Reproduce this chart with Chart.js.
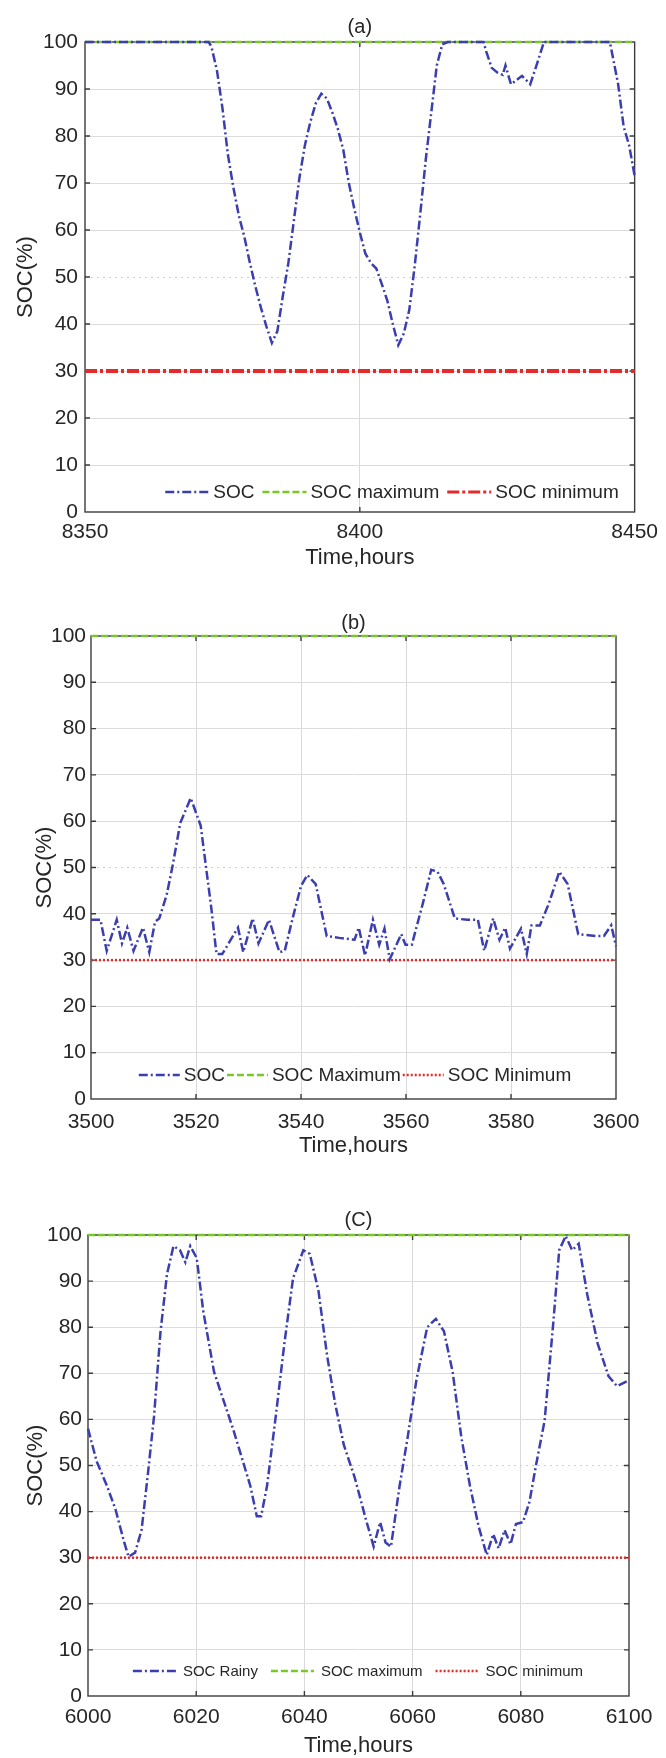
<!DOCTYPE html>
<html><head><meta charset="utf-8">
<script src="https://cdn.jsdelivr.net/npm/chart.js@4.4.1/dist/chart.umd.min.js"></script>
<style>
html,body{margin:0;padding:0;background:#fff;}
#wrap{position:relative;width:666px;height:1758px;overflow:hidden;}
.panel{position:absolute;left:0;width:666px;}
</style></head><body>
<div id="wrap">
<div class="panel" style="top:0;height:590px"><canvas id="cA"></canvas></div>
<div class="panel" style="top:590px;height:570px"><canvas id="cB"></canvas></div>
<div class="panel" style="top:1160px;height:598px"><canvas id="cC"></canvas></div>
</div>
<script>
// ---------- data ----------
const yTicks = [0, 10, 20, 30, 40, 50, 60, 70, 80, 90, 100];
const xTicksA = [8350, 8400, 8450];
const xTicksB = [3500, 3520, 3540, 3560, 3580, 3600];
const xTicksC = [6000, 6020, 6040, 6060, 6080, 6100];

const titleA = '(a)', titleB = '(b)', titleC = '(C)';
const xTitle = 'Time,hours', yTitle = 'SOC(%)';
const labelsA = ['SOC', 'SOC maximum', 'SOC minimum'];
const labelsB = ['SOC', 'SOC Maximum', 'SOC Minimum'];
const labelsC = ['SOC Rainy', 'SOC maximum', 'SOC minimum'];

const hoursA = [8350, 8372.5,
  8373, 8374, 8375, 8376, 8377, 8378, 8379, 8380, 8381, 8382,
  8383, 8384, 8385, 8386, 8387, 8388, 8389, 8390, 8391, 8392,
  8393, 8394, 8395, 8396, 8397, 8398, 8399, 8400, 8401, 8402,
  8403, 8404, 8405, 8406, 8407, 8408, 8409, 8410, 8411, 8412,
  8413, 8414, 8415, 8416,
  8422.5, 8423, 8424, 8425, 8426, 8426.5, 8427.5, 8429.5, 8431, 8432,
  8433.5, 8445.5, 8447, 8448, 8449, 8450];
const socA = [100, 100,
  99, 94, 86, 76, 69, 63, 58.5, 53, 48, 43.5,
  39.5, 36, 38.5, 46, 53, 62, 71, 78, 83, 87,
  89, 88, 85, 81.5, 77, 70, 64.5, 59.5, 55, 53,
  51.8, 48.5, 45, 40, 35.5, 38, 43, 52.5, 63.5, 75,
  85, 95, 99.5, 100,
  100, 98, 94.5, 93.5, 93, 95, 91, 92.8, 91, 94.5,
  100, 100, 91, 82, 78, 71.5];
const limitHoursA = [8350, 8450];

const hoursB = [3500, 3501.8, 3503, 3504.9, 3505.9, 3506.9, 3508.1, 3509.9, 3511.1, 3512.2,
  3513, 3514.4, 3515.6, 3517, 3519, 3520.9, 3522.1, 3522.9, 3523.9, 3525,
  3526.2, 3528, 3529, 3530.8, 3531.9, 3533.9, 3535.9, 3536.9, 3538.4, 3540,
  3541.2, 3542.8, 3544.9, 3547.3, 3550.2, 3551, 3552.2, 3553.7, 3554.9, 3555.9,
  3556.9, 3559.1, 3559.9, 3561.1, 3563.2, 3564.8, 3566, 3567.2, 3569.3, 3571.7,
  3573.7, 3574.9, 3576.6, 3577.8, 3578.9, 3579.8, 3581.9, 3583, 3583.9, 3585.5,
  3587.2, 3589.2, 3590.8, 3592.8, 3596.1, 3597.7, 3599.1, 3600];
const socB = [38.7, 38.7, 32, 38.7, 33.6, 37, 32, 37, 31.7, 38.3,
  39, 44, 50.7, 59.6, 65, 59, 48.4, 41.4, 31.3, 31.3,
  33.6, 37, 31.7, 39, 33.6, 38.7, 31.7, 32, 39, 46,
  48.4, 46.4, 35.2, 34.8, 34.4, 37, 31, 38.7, 33.3, 36.8,
  30.2, 35.6, 33.3, 33.3, 42.2, 49.5, 49.1, 46.4, 39, 38.7,
  38.7, 32, 39, 34.4, 37, 32.5, 36.8, 31.3, 37.5, 37.5,
  42.2, 49.1, 46.4, 35.6, 35.2, 35.2, 37.5, 33];
const limitHoursB = [3500, 3600];

const hoursC = [6000, 6001.6, 6003.5, 6005.1, 6006.7, 6007.5, 6008.7, 6009.9, 6011, 6012.2,
  6013.4, 6014.6, 6015.8, 6017, 6018, 6018.9, 6020.1, 6021.3, 6023.3, 6024.8,
  6026.8, 6028.4, 6030, 6031.2, 6032, 6033.1, 6034.7, 6036.3, 6037.9, 6039.8,
  6041, 6042.6, 6044.2, 6045.7, 6047.3, 6049.3, 6051.3, 6052.8, 6054, 6055,
  6056, 6057.6, 6059.1, 6060.7, 6062.7, 6064.3, 6065.8, 6067.4, 6069, 6070.6,
  6072.2, 6073.7, 6074.9, 6075.9, 6077, 6078.1, 6079.1, 6080.4, 6081.6, 6082.8,
  6084.4, 6086, 6087.1, 6088.3, 6089.5, 6090.7, 6092.3, 6094.2, 6096.2, 6097.8,
  6100];
const socC = [58, 50.9, 45.6, 40.4, 33.3, 30.2, 31.1, 36, 47.4, 60.6,
  79, 91.5, 97.6, 96.7, 94.1, 97.6, 95, 83.5, 70.3, 65,
  58, 51.8, 45.6, 39, 39, 45.6, 60.6, 76.5, 90.6, 96.7,
  95.9, 87.9, 73.8, 63.3, 54.4, 47.4, 38.6, 32.4, 37.7, 33.3,
  32.4, 45.6, 56.2, 68.5, 80, 81.8, 79.1, 70.3, 56.2, 45.6,
  36.8, 30.6, 35.1, 32, 36, 32.9, 37.3, 37.7, 42.1, 50,
  59.7, 80.9, 96.7, 99.8, 96.7, 98.1, 87, 76.5, 69.4, 67.2,
  68.5];
const limitHoursC = [6000, 6100];

const socMax = [100, 100];
const socMin = [30, 30];

// ---------- styles ----------
const FONT = "'Liberation Sans', Arial, Helvetica, sans-serif";
const TXT = '#262626';
const SOC_COLOR = '#3b3eae';
const MAX_COLOR = '#78c928';
const MIN_COLOR = '#e32b2b';

const pts = (xs, ys) => xs.map((x, i) => ({x, y: ys[i]}));

const framePlugin = {
  id: 'frame',
  beforeDatasetsDraw(chart) {
    const {ctx, chartArea: a, scales: {x, y}} = chart;
    ctx.save();
    ctx.strokeStyle = '#3c3c3c';
    ctx.lineWidth = 1.4;
    ctx.setLineDash([]);
    ctx.strokeRect(a.left, a.top, a.right - a.left, a.bottom - a.top);
    ctx.beginPath();
    const L = 5;
    y.ticks.forEach(t => {
      const p = y.getPixelForValue(t.value);
      if (p > a.top + 1 && p < a.bottom - 1) {
        ctx.moveTo(a.left, p); ctx.lineTo(a.left + L, p);
        ctx.moveTo(a.right, p); ctx.lineTo(a.right - L, p);
      }
    });
    x.ticks.forEach(t => {
      const p = x.getPixelForValue(t.value);
      if (p > a.left + 1 && p < a.right - 1) {
        ctx.moveTo(p, a.bottom); ctx.lineTo(p, a.bottom - L);
        ctx.moveTo(p, a.top); ctx.lineTo(p, a.top + L);
      }
    });
    ctx.stroke();
    ctx.restore();
  }
};

const insideLegend = {
  id: 'insideLegend',
  afterDatasetsDraw(chart, args, o) {
    const {ctx, chartArea: a} = chart;
    ctx.save();
    ctx.font = o.size + 'px ' + FONT;
    ctx.textBaseline = 'middle';
    ctx.textAlign = 'left';
    const items = chart.data.datasets.map(ds => ({ds, w: ctx.measureText(ds.label).width}));
    const total = items.reduce((s, it) => s + o.sample + o.gap + it.w, 0) + o.itemGap * (items.length - 1);
    let x = o.cx - total / 2;
    const y = a.bottom - o.fromBottom;
    items.forEach(it => {
      ctx.strokeStyle = it.ds.borderColor;
      ctx.lineWidth = Math.min(it.ds.borderWidth, 3);
      ctx.setLineDash(it.ds.borderDash || []);
      ctx.beginPath(); ctx.moveTo(x, y); ctx.lineTo(x + o.sample, y); ctx.stroke();
      ctx.setLineDash([]);
      x += o.sample + o.gap;
      ctx.fillStyle = TXT;
      ctx.fillText(it.ds.label, x, y + 1);
      x += it.w + o.itemGap;
    });
    ctx.restore();
  }
};

function makeChart(id, g, datasets, xTicks, title, legendOpts) {
  return new Chart(document.getElementById(id), {
    type: 'line',
    data: {datasets},
    plugins: [framePlugin, insideLegend],
    options: {
      responsive: true, maintainAspectRatio: false, animation: false,
      layout: {padding: {left: 0, top: 0, right: g.padRight, bottom: 0}},
      elements: {point: {radius: 0}, line: {tension: 0}},
      plugins: {
        legend: {display: false},
        tooltip: {enabled: false},
        title: {display: true, text: title, fullSize: false, color: TXT,
          font: {family: FONT, size: 20, weight: 'normal', lineHeight: 1.2},
          padding: {top: g.titleTop, bottom: g.titleBottom}},
        insideLegend: legendOpts
      },
      scales: {
        x: {
          type: 'linear', min: xTicks[0], max: xTicks[xTicks.length - 1],
          afterBuildTicks: s => { s.ticks = xTicks.map(v => ({value: v})); },
          afterFit: s => { s.height = g.xHeight; },
          ticks: {callback: v => String(v), color: TXT, autoSkip: false, maxRotation: 0,
            font: {family: FONT, size: 21}, padding: g.xPad},
          grid: {drawTicks: false, lineWidth: 1,
            color: c => (c.index > 0 && c.index < xTicks.length - 1) ? '#d9d9d9' : 'rgba(0,0,0,0)'},
          border: {display: false},
          title: {display: true, text: xTitle, color: TXT,
            font: {family: FONT, size: 22, lineHeight: 1.0},
            padding: {top: 0, bottom: g.xTitleBottom}}
        },
        y: {
          min: 0, max: 100,
          afterBuildTicks: s => { s.ticks = yTicks.map(v => ({value: v})); },
          afterFit: s => { s.width = g.yWidth; },
          ticks: {color: TXT, font: {family: FONT, size: 21}, padding: g.yPad},
          grid: {drawTicks: false, lineWidth: 1,
            color: c => (c.tick && c.tick.value > 0 && c.tick.value < 100) ?
              (c.tick.value === 50 ? '#cfcfcf' : '#dcdcdc') : 'rgba(0,0,0,0)'},
          border: {display: false, dash: c => (c.tick && c.tick.value === 50) ? [2, 4] : []},
          title: {display: true, text: yTitle, color: TXT,
            font: {family: FONT, size: 22, lineHeight: 1.0},
            padding: {top: g.yTitlePad, bottom: 0}}
        }
      }
    }
  });
}

function socSet(label, xs, ys) {
  return {label, data: pts(xs, ys), borderColor: SOC_COLOR, borderWidth: 2.5,
    borderDash: [9, 3, 2, 3], fill: false, clip: 4, order: 0};
}
function maxSet(label, xs) {
  return {label, data: pts(xs, socMax), borderColor: MAX_COLOR, borderWidth: 2.5,
    borderDash: [7, 3], fill: false, clip: 4, order: 1};
}
function minSet(label, xs, dotted) {
  return dotted
    ? {label, data: pts(xs, socMin), borderColor: MIN_COLOR, borderWidth: 2.5,
        borderDash: [2, 2], fill: false, clip: 4, order: 2}
    : {label, data: pts(xs, socMin), borderColor: MIN_COLOR, borderWidth: 4,
        borderDash: [12, 3, 3, 3], fill: false, clip: 4, order: 2};
}

makeChart('cA',
  {padRight: 25, yWidth: 85, xHeight: 78, xPad: 8, yPad: 7, xTitleBottom: 21,
   titleTop: 15, titleBottom: 3, yTitlePad: 15},
  [socSet(labelsA[0], hoursA, socA), maxSet(labelsA[1], limitHoursA), minSet(labelsA[2], limitHoursA, false)],
  xTicksA, titleA,
  {cx: 392, fromBottom: 20, size: 19, sample: 44, gap: 4, itemGap: 8});

makeChart('cB',
  {padRight: 50, yWidth: 91, xHeight: 61, xPad: 11, yPad: 5, xTitleBottom: 3,
   titleTop: 21, titleBottom: 1, yTitlePad: 34},
  [socSet(labelsB[0], hoursB, socB), maxSet(labelsB[1], limitHoursB), minSet(labelsB[2], limitHoursB, true)],
  xTicksB, titleB,
  {cx: 355, fromBottom: 24, size: 19, sample: 41, gap: 4, itemGap: 2});

makeChart('cC',
  {padRight: 37, yWidth: 88, xHeight: 62, xPad: 9, yPad: 6, xTitleBottom: 1,
   titleTop: 48, titleBottom: 3, yTitlePad: 25},
  [socSet(labelsC[0], hoursC, socC), maxSet(labelsC[1], limitHoursC), minSet(labelsC[2], limitHoursC, true)],
  xTicksC, titleC,
  {cx: 358, fromBottom: 25, size: 15, sample: 43, gap: 7, itemGap: 13});
</script>
</body></html>
